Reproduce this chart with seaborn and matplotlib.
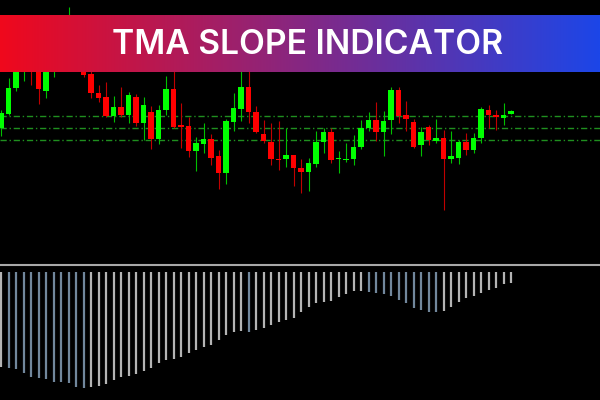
import numpy as np
import matplotlib
matplotlib.use("Agg")
import matplotlib.pyplot as plt
import seaborn as sns

# ---------------- data ----------------
title = "TMA SLOPE INDICATOR"

# candle prices (arbitrary price units)
opens = [122.3, 136.3, 162, 182, 200, 190, 159, 195, 215, 205,
         228, 195, 176, 156.7, 152.7, 134.3, 142.7, 135, 153.3, 127.3,
         137.7, 110.7, 140, 160.7, 125, 124, 99, 106, 111.5, 94,
         76.7, 128.3, 141.3, 163.3, 138, 116, 108.3, 91, 90.7, 95,
         82.3, 78.3, 86.3, 107.7, 118.3, 91.5, 90.5, 91, 102.7, 121.7,
         130, 117.7, 130, 160, 135, 127.7, 105, 122.7, 109, 111.7,
         91, 92.3, 107.7, 100, 112.3, 140, 135, 132.3, 136.3]
highs = [140, 171.7, 192, 205, 206, 195, 205, 222, 225, 243,
         232, 200, 182, 165, 168.3, 154.3, 163.3, 158, 155.7, 152.7,
         144.5, 145, 174, 188, 147, 133.3, 113, 127.3, 116, 100,
         130.7, 157.3, 184, 186, 144, 130, 127.3, 129, 121.7, 95.5,
         91, 92.3, 119.3, 121.7, 121.7, 99.3, 106.7, 115, 130, 138.3,
         148.3, 139, 163.3, 163.3, 149.3, 130.7, 123.3, 125, 130.7, 120,
         119.3, 110, 116.7, 117.3, 143.3, 145, 140, 147.3, 140]
lows = [114, 135.5, 159.3, 169.3, 165, 146, 152.3, 172.7, 190, 195,
        186, 173.3, 152.3, 148.3, 132.7, 128.3, 132.7, 127.3, 124, 110,
        101, 106, 135, 122, 102.5, 93.3, 78.8, 97.3, 85, 60.7,
        65.7, 119, 129, 126.7, 117, 106.7, 85, 80, 83.3, 64,
        56.7, 59, 83.3, 97.3, 87.3, 77.3, 88.3, 85, 100.7, 119.3,
        109.3, 94, 116, 126.7, 119.3, 102, 94, 105, 106.7, 40,
        87.3, 86, 95, 97.3, 107.3, 121.7, 120, 125, 136]
closes = [136.7, 162, 188, 200, 188, 160.7, 198, 215, 205, 228,
          195, 175, 156.7, 152.3, 134.3, 142.7, 135, 154.7, 127.3, 145,
          110.7, 140, 160.7, 123.3, 123.3, 99, 106.8, 111.3, 92.2, 76.7,
          129, 141.7, 163.3, 138, 118.3, 108.7, 90.7, 90.3, 95, 82.3,
          78.3, 86.7, 108.3, 117.7, 90, 92, 91, 102.7, 121.7, 130,
          117.7, 129, 160, 134.3, 131, 102.7, 118.3, 110, 112.3, 91,
          94, 107.7, 100, 111.7, 140.7, 135, 133.3, 135, 139.3]

# horizontal TMA band levels
band_levels = [134.0, 121.7, 110.0]

# TMA slope histogram values
slope = [-101.7, -102.7, -104.3, -107.7, -111.7, -113.3, -114.0, -116.7, -116.7, -118.3,
         -122.3, -122.7, -121.7, -121.0, -119.0, -115.0, -112.3, -111.0, -109.3, -106.3,
         -102.7, -97.7, -95.0, -94.3, -91.7, -88.3, -85.0, -82.3, -80.0, -75.0,
         -70.0, -67.3, -65.7, -66.7, -65.0, -62.7, -60.3, -57.3, -55.0, -52.7,
         -47.3, -42.3, -38.3, -36.7, -35.7, -31.7, -29.0, -26.0, -25.7, -26.7,
         -28.3, -29.0, -30.7, -35.0, -38.3, -42.7, -45.0, -46.7, -46.7, -45.7,
         -41.7, -36.7, -33.3, -30.7, -27.7, -25.0, -22.7, -19.3, -18.3]
# bars drawn in the "falling" colour
falling_bars = [1, 2, 3, 4, 5, 6, 7, 8, 9, 10, 11, 33,
                49, 50, 51, 52, 53, 54, 55, 56, 57, 58]

# ---------------- style ----------------
sns.set_theme(style="dark")
plt.rcParams["font.family"] = ["Inter", "DejaVu Sans"]
plt.rcParams["axes.facecolor"] = "black"
plt.rcParams["figure.facecolor"] = "black"

BULL = "#00ff00"
BEAR = "#ff0000"
BULL_WICK = "#00c000"
BEAR_WICK = "#c00000"

fig = plt.figure(figsize=(6, 4), dpi=100)
W, H = 600, 400

x = np.arange(len(opens))
xlim = (-1 / 7.5, (W - 1) / 7.5)

# ---- price panel ----
ax = fig.add_axes([0, 145 / H, 1, 255 / H])
ax.set_facecolor("black")
o = np.array(opens); c = np.array(closes)
hi = np.array(highs); lo = np.array(lows)
up = c >= o
ax.vlines(x[up], lo[up], hi[up], color=BULL_WICK, lw=0.8, zorder=2)
ax.vlines(x[~up], lo[~up], hi[~up], color=BEAR_WICK, lw=0.8, zorder=2)
body_lo = np.minimum(o, c)
body_h = np.maximum(np.abs(c - o), 0.6)
ax.bar(x[up], body_h[up], bottom=body_lo[up], width=0.67, color=BULL,
       edgecolor="none", zorder=3)
ax.bar(x[~up], body_h[~up], bottom=body_lo[~up], width=0.67, color=BEAR,
       edgecolor="none", zorder=3)
for lvl in band_levels:
    ax.axhline(lvl, color="#1f8f1f", lw=1.0, ls=(0, (4.5, 2, 1, 2)), zorder=1)
ax.set_xlim(*xlim)
ax.set_ylim(-5, 250)
ax.axis("off")

# ---- slope panel ----
ax2 = fig.add_axes([0, 0, 1, 145 / H])
ax2.set_facecolor("black")
sl = np.array(slope)
cols = np.array(["#b4b4b4"] * len(sl), dtype=object)
cols[falling_bars] = "#71879c"
ax2.vlines(np.arange(len(sl)), sl, -7, colors=list(cols), lw=1.6)
ax2.axhline(0, color="#a8a8a8", lw=1.5)
ax2.set_xlim(*xlim)
ax2.set_ylim(-135, 10)
ax2.axis("off")

# ---- banner ----
bax = fig.add_axes([0, (H - 72) / H, 1, 57 / H], zorder=10)
left = np.array([240, 8, 28]) / 255
right = np.array([28, 70, 232]) / 255
t = np.linspace(0, 1, 600)[None, :, None]
grad = left[None, None, :] * (1 - t) + right[None, None, :] * t
bax.imshow(grad, aspect="auto", extent=(0, 1, 0, 1), interpolation="bilinear")
bax.set_xlim(0, 1); bax.set_ylim(0, 1)
bax.axis("off")
bax.text(308 / W, 0.47, title, color="white", fontsize=24.2, fontweight="semibold",
         ha="center", va="center", transform=bax.transAxes)

fig.savefig("out.png", dpi=100, facecolor="black")
